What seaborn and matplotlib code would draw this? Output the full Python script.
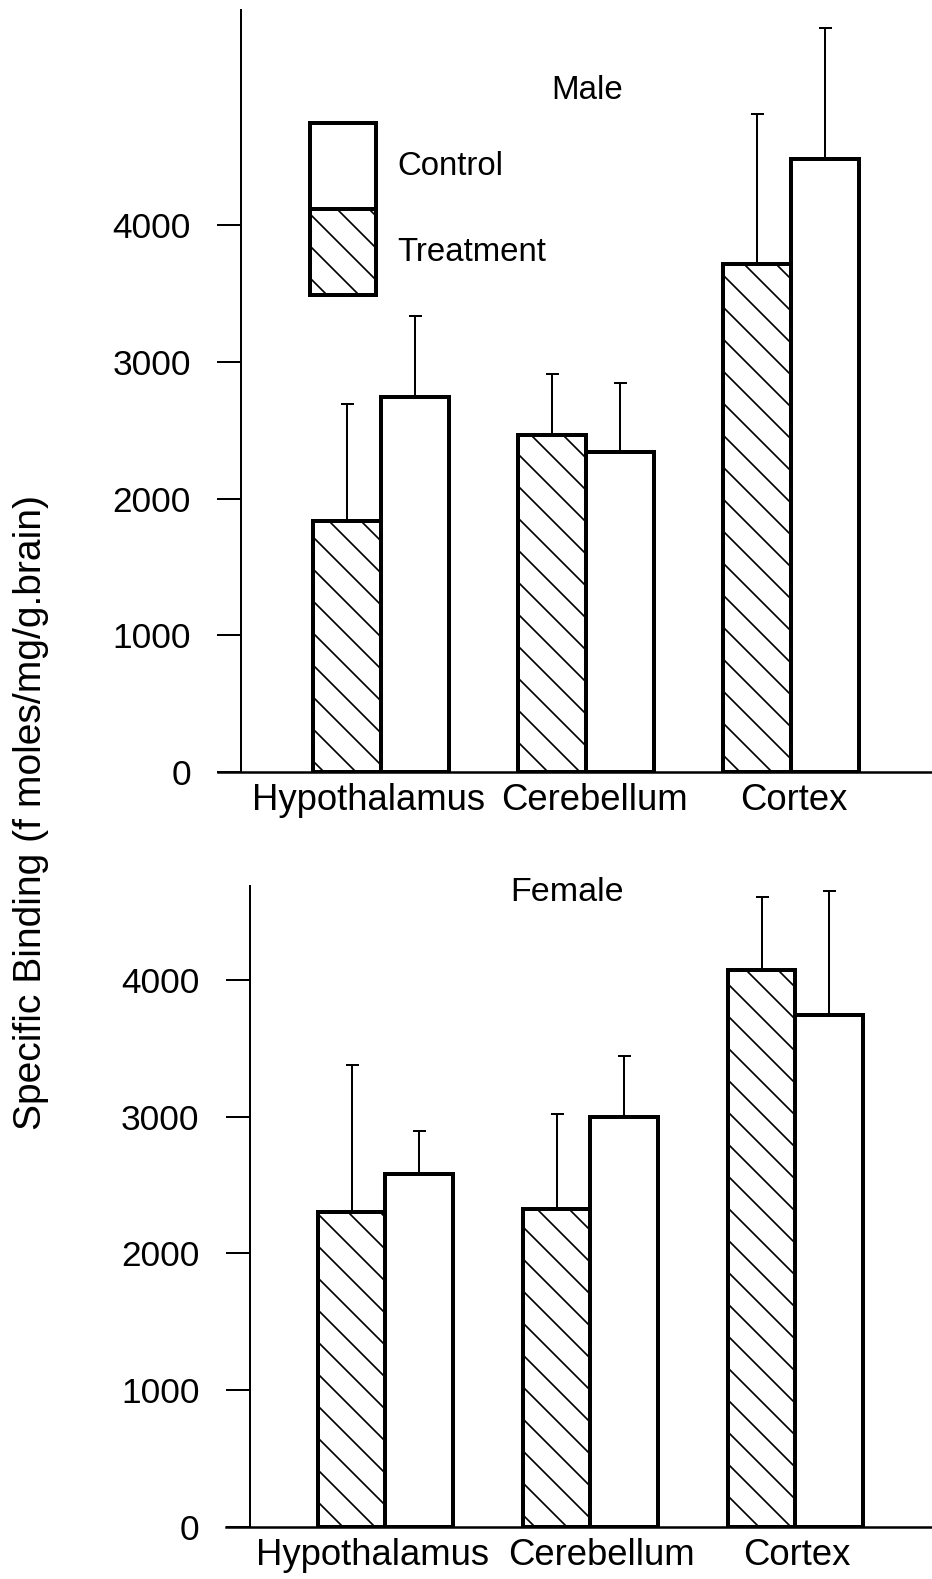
import numpy as np
import pandas as pd
import matplotlib
matplotlib.use("Agg")
import matplotlib.pyplot as plt
import matplotlib.patches as mpatches
import matplotlib.transforms as mtransforms
import seaborn as sns

# ---------------- data ----------------
regions = ["Hypothalamus", "Cerebellum", "Cortex"]
groups = ["Treatment", "Control"]

male_treatment = [1835, 2467, 3714]
male_control = [2746, 2342, 4482]
male_treatment_err = [860, 442, 1099]
male_control_err = [590, 507, 963]

female_treatment = [2300, 2325, 4074]
female_control = [2580, 2995, 3742]
female_treatment_err = [1075, 695, 536]
female_control_err = [315, 450, 908]

yticks = [0, 1000, 2000, 3000, 4000]
ylabel = "Specific Binding (f moles/mg/g.brain)"

# ---------------- style ----------------
DPI = 192
W, H = 932, 1579
PT = 72.0 / DPI  # points per pixel
HATCH = "\\\\"

sns.set_style("white")
plt.rcParams["font.family"] = ["Liberation Sans", "DejaVu Sans"]
plt.rcParams["hatch.linewidth"] = 1.7 * PT
plt.rcParams["hatch.color"] = "black"
for k in ["text.color", "axes.labelcolor", "xtick.color", "ytick.color", "axes.edgecolor"]:
    plt.rcParams[k] = "black"

fig = plt.figure(figsize=(W / DPI, H / DPI), dpi=DPI)


def make_panel(rect_px, xlim, spine_x, ymax, treat, ctrl, terr, cerr,
               title, title_xy, title_fs, label_shift_px):
    left, top, right, bottom = rect_px
    ax = fig.add_axes([left / W, 1 - bottom / H, (right - left) / W, (bottom - top) / H])
    df = pd.DataFrame({
        "Region": regions * 2,
        "Group": ["Treatment"] * len(regions) + ["Control"] * len(regions),
        "Binding": list(treat) + list(ctrl),
    })
    sns.barplot(data=df, x="Region", y="Binding", hue="Group", order=regions,
                hue_order=groups, palette={"Treatment": "white", "Control": "white"},
                edgecolor="black", linewidth=4 * PT, width=0.66, errorbar=None,
                saturation=1, legend=False, ax=ax)
    errs = {"Treatment": terr, "Control": cerr}
    for container, g in zip(ax.containers, groups):
        xs, ys = [], []
        for p in container.patches:
            if g == "Treatment":
                p.set_hatch(HATCH)
            xs.append(p.get_x() + p.get_width() / 2)
            ys.append(p.get_height())
        ax.errorbar(xs, ys, yerr=[np.zeros(len(ys)), errs[g]], fmt="none",
                    ecolor="black", elinewidth=2 * PT, capsize=6.5 * PT,
                    capthick=2 * PT, zorder=3)

    ax.set_xlim(*xlim)
    ax.set_ylim(0, ymax)
    ax.set_yticks(yticks)
    ax.set_yticklabels([str(v) for v in yticks])
    ax.set_xlabel("")
    ax.set_ylabel("")
    ax.tick_params(axis="y", left=True, direction="out", length=24 * PT,
                   width=2 * PT, pad=26 * PT, labelsize=35.3 * PT)
    ax.tick_params(axis="x", bottom=False, length=0, pad=11 * PT, labelsize=36.5 * PT)
    for lab, dx in zip(ax.get_xticklabels(), label_shift_px):
        off = mtransforms.ScaledTranslation(dx / DPI, 0, fig.dpi_scale_trans)
        lab.set_transform(lab.get_transform() + off)
    ax.spines["left"].set_position(("data", spine_x))
    ax.spines["left"].set_linewidth(2 * PT)
    ax.spines["bottom"].set_linewidth(2.5 * PT)
    ax.spines["top"].set_visible(False)
    ax.spines["right"].set_visible(False)
    ax.text(title_xy[0], title_xy[1], title, transform=ax.transAxes,
            ha="center", va="center", fontsize=title_fs)
    return ax


ax_m = make_panel((218, 10, 932, 772), (-0.795, 2.688), -0.683, 5574,
                  male_treatment, male_control, male_treatment_err, male_control_err,
                  "Male", (0.517, 0.894), 33 * PT, [-12, 8, 3])

ax_f = make_panel((225.6, 885.7, 932, 1526.8), (-0.78, 2.666), -0.663, 4690,
                  female_treatment, female_control, female_treatment_err, female_control_err,
                  "Female", (0.483, 0.99), 34 * PT, [-13, 11, 1])

handles = [
    mpatches.Patch(facecolor="white", edgecolor="black", linewidth=4 * PT, label="Control"),
    mpatches.Patch(facecolor="white", edgecolor="black", linewidth=4 * PT, hatch=HATCH,
                   label="Treatment"),
]
ax_m.legend(handles=handles, loc="upper left", bbox_to_anchor=(0.1289, 0.8517),
            frameon=False, fontsize=33 * PT, handlelength=2.0, handleheight=3.63,
            labelspacing=0, borderpad=0, borderaxespad=0, handletextpad=0.64)

fig.text(31 / W, 1 - 812 / H, ylabel, rotation=90, ha="center", va="center",
         fontsize=39 * PT)

fig.savefig("out.png", dpi=DPI)
